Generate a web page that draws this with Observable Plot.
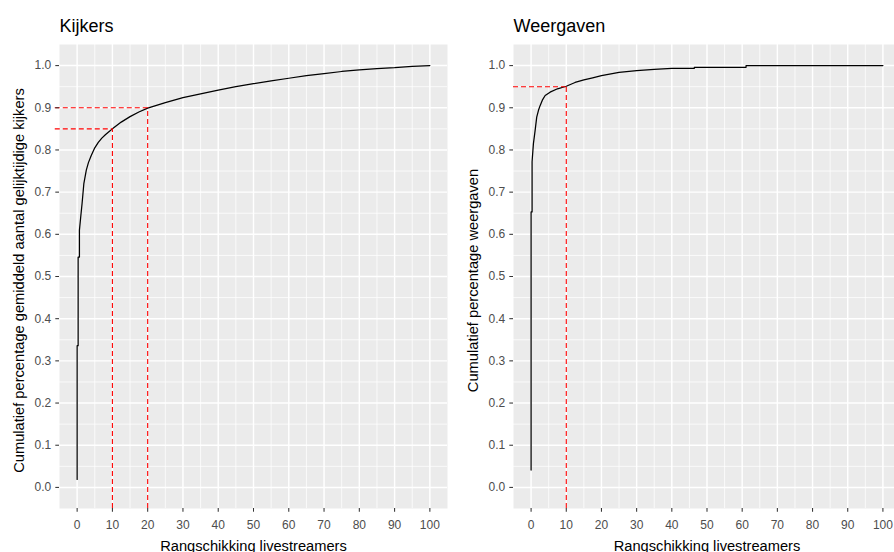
<!DOCTYPE html>
<html><head><meta charset="utf-8">
<script src="https://cdn.jsdelivr.net/npm/d3@7"></script>
<script src="https://cdn.jsdelivr.net/npm/@observablehq/plot@0.6"></script>
<style>
html,body{margin:0;padding:0;background:#fff;overflow:hidden;width:894px;height:552px;position:relative;}
#left,#right{position:absolute;top:0;height:552px;}
#left{left:0;width:451px}
#right{left:454px;width:450px}
#left svg,#right svg{max-width:none !important;}
</style></head><body>
<div id="left"></div><div id="right"></div>
<script>
// Tick positions
const xTicks = [0, 10, 20, 30, 40, 50, 60, 70, 80, 90, 100];
const xMinor = [5, 15, 25, 35, 45, 55, 65, 75, 85, 95];
const yTicks = [0, 0.1, 0.2, 0.3, 0.4, 0.5, 0.6, 0.7, 0.8, 0.9, 1.0];
const yMinor = [0.05, 0.15, 0.25, 0.35, 0.45, 0.55, 0.65, 0.75, 0.85, 0.95];

// Kijkers: cumulative share of average concurrent viewers by streamer rank (%)
const kijkersRank = [0, 0, 0.28, 0.28, 0.65, 0.65, 1.0, 1.4, 1.9, 2.6, 3.2, 4.0, 5.0, 6.0, 7.0, 8.0, 9.0, 10, 12.5, 15, 17.5, 20, 25, 30, 35, 40, 45, 50, 55, 60, 65, 70, 75, 80, 85, 90, 95, 100];
const kijkersCum  = [0.019, 0.336, 0.336, 0.546, 0.546, 0.61, 0.64, 0.673, 0.72, 0.752, 0.770, 0.787, 0.805, 0.818, 0.828, 0.836, 0.843, 0.85, 0.866, 0.879, 0.89, 0.899, 0.912, 0.924, 0.933, 0.942, 0.950, 0.957, 0.964, 0.970, 0.976, 0.981, 0.986, 0.990, 0.993, 0.995, 0.998, 1.0];
const kijkersGuideX = [10, 20];
const kijkersGuideY = [0.85, 0.9];

// Weergaven: cumulative share of views by streamer rank (%)
const weergavenRank = [0, 0, 0.28, 0.28, 0.66, 1.14, 1.6, 2.1, 2.56, 3.2, 4.0, 5.4, 7.5, 10, 12.5, 15, 17.5, 20, 25, 30, 35, 40, 46.4, 46.4, 61.1, 61.1, 100];
const weergavenCum  = [0.041, 0.653, 0.653, 0.772, 0.815, 0.846, 0.878, 0.894, 0.905, 0.918, 0.929, 0.937, 0.945, 0.951, 0.960, 0.966, 0.971, 0.976, 0.984, 0.988, 0.991, 0.9935, 0.9935, 0.996, 0.996, 1.0, 1.0];
const weergavenGuideX = [10];
const weergavenGuideY = [0.95];

const FONT = "'Liberation Sans', Arial, Helvetica, sans-serif";

function panel({title, ylabel, rank, cum, gx, gy, width, panelW, hStart}) {
  const data = rank.map((r, i) => ({rank: r, cum: cum[i]}));
  return Plot.plot({
    width, height: 552,
    marginLeft: 59, marginRight: width - 59 - panelW, marginTop: 44, marginBottom: 44,
    x: {domain: [-5, 105]},
    y: {domain: [-0.05, 1.05]},
    style: {fontFamily: FONT, background: "transparent", overflow: "visible", color: "#000", maxWidth: "none"},
    marks: [
      Plot.frame({fill: "#EBEBEB", stroke: "none"}),
      Plot.ruleX(xMinor, {x: d => d, stroke: "#fff", strokeWidth: 0.75}),
      Plot.ruleY(yMinor, {y: d => d, stroke: "#fff", strokeWidth: 0.75}),
      Plot.ruleX(xTicks, {x: d => d, stroke: "#fff", strokeWidth: 1.45}),
      Plot.ruleY(yTicks, {y: d => d, stroke: "#fff", strokeWidth: 1.45}),
      Plot.line(data, {x: "rank", y: "cum", stroke: "#000", strokeWidth: 1.25}),
      Plot.ruleY(gy, {y: d => d, x1: hStart, x2: (d, i) => gx[i], stroke: "#FF0000", strokeWidth: 1.1, strokeDasharray: "5,3"}),
      Plot.ruleX(gx, {x: d => d, y1: -0.05, y2: (d, i) => gy[i], stroke: "#FF0000", strokeWidth: 1.1, strokeDasharray: "5,3"}),
      Plot.axisX(xTicks, {tickSize: 3.7, tickPadding: 8, stroke: "#333", strokeWidth: 1.05, fill: "#4D4D4D", fontSize: 12, label: null, tickFormat: d => String(d)}),
      Plot.axisY(yTicks, {tickSize: 3.7, tickPadding: 4.5, stroke: "#333", strokeWidth: 1.05, fill: "#4D4D4D", fontSize: 12, label: null, tickFormat: d3.format(".1f")}),
      Plot.text([title], {text: d => d, frameAnchor: "top-left", dy: -13, lineAnchor: "bottom", textAnchor: "start", fontSize: 18, fill: "#000"}),
      Plot.text([ylabel], {text: d => d, frameAnchor: "left", dx: -36, dy: 4, rotate: -90, lineAnchor: "bottom", textAnchor: "middle", fontSize: 14.67, fill: "#000"}),
      Plot.text(["Rangschikking livestreamers"], {text: d => d, frameAnchor: "bottom", dy: 42, lineAnchor: "bottom", textAnchor: "middle", fontSize: 14.67, fill: "#000"})
    ]
  });
}

document.getElementById("left").append(panel({
  title: "Kijkers",
  ylabel: "Cumulatief percentage gemiddeld aantal gelijktijdige kijkers",
  rank: kijkersRank, cum: kijkersCum, gx: kijkersGuideX, gy: kijkersGuideY,
  width: 451, panelW: 388, hStart: -6.2
}));
document.getElementById("right").append(panel({
  title: "Weergaven",
  ylabel: "Cumulatief percentage weergaven",
  rank: weergavenRank, cum: weergavenCum, gx: weergavenGuideX, gy: weergavenGuideY,
  width: 450, panelW: 387, hStart: -5
}));
</script>
</body></html>
